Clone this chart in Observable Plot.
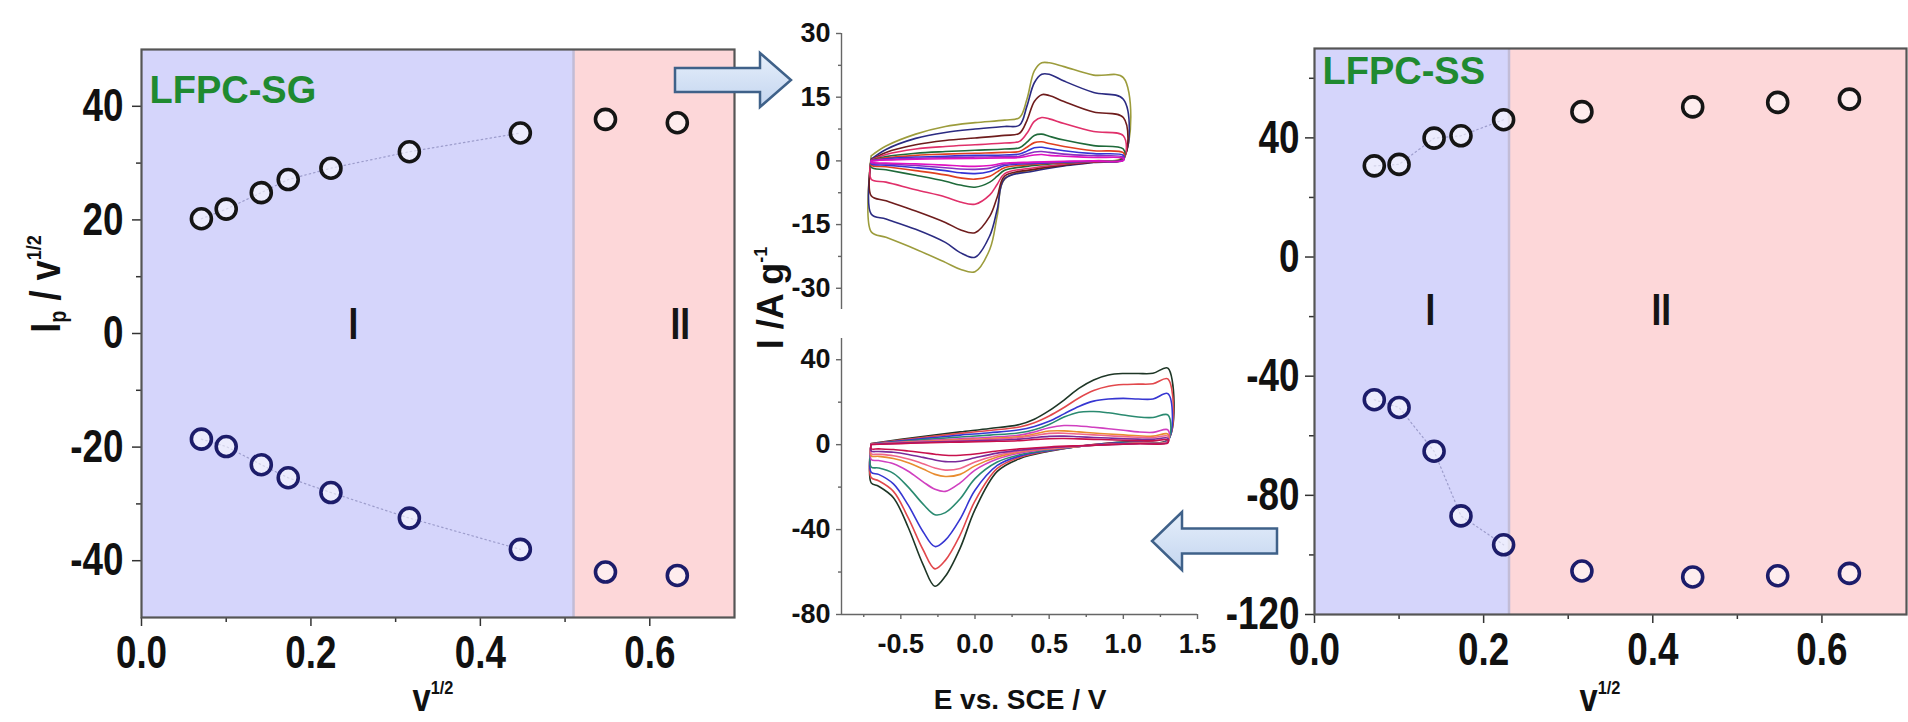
<!DOCTYPE html>
<html>
<head>
<meta charset="utf-8">
<script src="https://cdn.jsdelivr.net/npm/d3@7"></script>
<script src="https://cdn.jsdelivr.net/npm/@observablehq/plot@0.6"></script>
<style>
  html, body { margin: 0; padding: 0; background: #fff; }
  #wrap { position: relative; width: 1908px; height: 722px; overflow: hidden; background: #fff; }
  .panel { position: absolute; top: 0; }
  .lbl { position: absolute; white-space: nowrap; line-height: 0.85; color: #111; font-weight: bold; }
  .narrow { font-family: "Liberation Sans Narrow", "Arial Narrow", "Liberation Sans", Arial, sans-serif; }
  .reg { font-family: "Liberation Sans", Arial, sans-serif; }
  .rot { transform: translate(-50%, -50%) rotate(-90deg) scaleX(0.86); }
  .ctr { transform: translateX(-50%) scaleX(0.86); }
  .rotr { transform: translate(-50%, -50%) rotate(-90deg); }
  .ctrr { transform: translateX(-50%); }
  sup { font-size: 0.5em; vertical-align: 0.9em; line-height: 0; }
  sub { font-size: 0.55em; vertical-align: -0.25em; line-height: 0; }
  #arrows { position: absolute; left: 0; top: 0; pointer-events: none; }
</style>
</head>
<body>
<div id="wrap"></div>
<script>
// ---------------- DATA ----------------
// square root of scan rate (x of both outer panels)
const sqrtScanRate = [0.0707, 0.1, 0.1414, 0.1732, 0.2236, 0.3162, 0.4472, 0.5477, 0.6325];
// LFPC-SG : Ip / v^1/2
const sgAnodicPeak   = [20.2, 21.9, 24.8, 27.1, 29.1, 32.0, 35.3, 37.7, 37.1];
const sgCathodicPeak = [-18.6, -19.9, -23.1, -25.4, -28.0, -32.5, -38.0, -42.0, -42.6];
// LFPC-SS : Ip / v^1/2
const ssAnodicPeak   = [30.6, 31.1, 39.9, 40.7, 46.1, 48.8, 50.4, 51.9, 53.0];
const ssCathodicPeak = [-47.9, -50.5, -65.2, -86.9, -96.6, -105.4, -107.4, -107.0, -106.2];
// region boundaries (x) and names
const sgRegionBounds = [0, 0.51, 0.7];
const ssRegionBounds = [0, 0.23, 0.7];
const regionNames = ["I", "II"];
const sgFitCount = 7;   // points joined by the dotted guide in region I
const ssFitCount = 5;

// tick values
const outerXTicks = [0, 0.2, 0.4, 0.6];
const outerXMinor = [0.1, 0.3, 0.5];
const sgYTicks = [-40, -20, 0, 20, 40];
const sgYMinor = [-30, -10, 10, 30];
const ssYTicks = [-120, -80, -40, 0, 40];
const ssYMinor = [-100, -60, -20, 20, 60];
const cvXTicks = [-0.5, 0, 0.5, 1.0, 1.5];
const cvXMinor = [-0.75, -0.25, 0.25, 0.75, 1.25];
const sgCvYTicks = [-30, -15, 0, 15, 30];
const sgCvYMinor = [-22.5, -7.5, 7.5, 22.5];
const ssCvYTicks = [-80, -40, 0, 40];
const ssCvYMinor = [-60, -20, 20];

// domains
const outerXDomain = [0, 0.7];
const sgYDomain = [-50, 50];
const ssYDomain = [-120, 70];
const cvXDomain = [-0.9, 1.5];
const sgCvYDomain = [-35, 30];
const ssCvYDomain = [-80, 50];

// CV of LFPC-SG (top inset): potential grid of forward / reverse sweep
const sgCvPotUp   = [-0.7, -0.6, -0.4, -0.2, 0.0, 0.2, 0.3, 0.35, 0.4, 0.45, 0.5, 0.6, 0.8, 1.0];
const sgCvPotDown = [1.0, 0.8, 0.6, 0.4, 0.2, 0.15, 0.1, 0.0, -0.1, -0.2, -0.4, -0.6, -0.7];
const sgCvUp = [
  [1.2, 3.5, 6.3, 8.1, 9.0, 9.6, 10.2, 14.5, 21.2, 23.1, 23.1, 22.2, 20.2, 19.6],
  [0.4, 2.7, 5.3, 6.7, 7.5, 8.1, 8.4, 12.9, 18.4, 20.4, 20.4, 18.8, 16.1, 14.5],
  [0.2, 2.0, 3.8, 4.8, 5.4, 6.0, 6.5, 9.5, 14.0, 15.6, 15.4, 14.0, 11.5, 10.2],
  [0.2, 1.5, 2.8, 3.4, 3.8, 4.2, 4.6, 6.5, 9.3, 10.2, 9.9, 8.8, 6.9, 5.9],
  [0.1, 1.0, 1.8, 2.2, 2.5, 2.8, 3.1, 4.4, 6.0, 6.3, 5.8, 4.9, 3.6, 2.8],
  [0.1, 0.7, 1.3, 1.6, 1.8, 2.0, 2.2, 3.2, 4.3, 4.5, 4.1, 3.4, 2.4, 1.9],
  [0.1, 0.5, 0.9, 1.1, 1.3, 1.4, 1.6, 2.3, 3.1, 3.2, 2.9, 2.4, 1.7, 1.3],
  [0.0, 0.3, 0.6, 0.8, 0.9, 1.0, 1.1, 1.6, 2.1, 2.2, 2.0, 1.6, 1.2, 0.9],
  [0.0, 0.2, 0.4, 0.5, 0.6, 0.7, 0.8, 1.1, 1.4, 1.5, 1.3, 1.1, 0.8, 0.6]
];
const sgCvDown = [
  [1.0, 0.0, -0.8, -2.0, -4.3, -12.9, -20.8, -26.1, -25.5, -23.9, -20.8, -18.0, -16.7],
  [0.8, -0.4, -1.2, -2.4, -4.2, -11.4, -17.6, -22.7, -21.6, -19.2, -16.1, -13.7, -12.5],
  [0.6, -0.3, -1.0, -2.0, -3.6, -8.5, -13.0, -16.9, -16.2, -14.5, -11.8, -9.4, -8.2],
  [0.4, -0.2, -0.8, -1.6, -3.0, -5.5, -8.0, -10.2, -9.7, -8.5, -6.8, -5.0, -4.3],
  [0.3, -0.1, -0.5, -1.1, -2.2, -3.6, -5.0, -6.2, -5.7, -4.8, -3.4, -2.1, -1.5],
  [0.2, -0.1, -0.4, -0.8, -1.6, -2.6, -3.6, -4.3, -4.0, -3.3, -2.3, -1.4, -1.0],
  [0.2, -0.1, -0.3, -0.6, -1.1, -1.8, -2.5, -3.0, -2.8, -2.3, -1.6, -1.0, -0.7],
  [0.1, -0.1, -0.2, -0.4, -0.8, -1.2, -1.7, -2.0, -1.9, -1.6, -1.1, -0.7, -0.5],
  [0.1, 0.0, -0.1, -0.3, -0.5, -0.8, -1.1, -1.3, -1.2, -1.0, -0.7, -0.5, -0.3]
];
const sgCvColors = ["#9c9c3c", "#2b2b82", "#6e1c1c", "#e0306a", "#1f6a3a", "#e04020", "#3434d4", "#8a30c0", "#e010c0"];

// CV of LFPC-SS (bottom inset)
const ssCvPotUp   = [-0.7, -0.5, -0.3, -0.1, 0.1, 0.3, 0.4, 0.5, 0.6, 0.7, 0.8, 0.9, 1.0, 1.1, 1.2, 1.3];
const ssCvPotDown = [1.3, 1.1, 0.9, 0.7, 0.5, 0.3, 0.15, 0.0, -0.1, -0.2, -0.27, -0.35, -0.45, -0.55, -0.65, -0.7];
const ssCvUp = [
  [0.5, 2.5, 4.3, 6.0, 7.6, 9.5, 12.0, 16.0, 21.0, 26.5, 30.5, 32.8, 33.5, 33.5, 33.6, 36.0],
  [0.4, 2.2, 3.8, 5.3, 6.7, 8.3, 10.3, 13.5, 17.5, 22.0, 25.5, 27.5, 28.3, 28.5, 28.7, 31.0],
  [0.3, 1.8, 3.2, 4.5, 5.6, 7.0, 8.6, 11.0, 14.5, 18.0, 20.5, 21.5, 21.8, 21.5, 21.5, 24.0],
  [0.3, 1.5, 2.6, 3.6, 4.5, 5.6, 7.0, 9.5, 13.0, 15.3, 15.6, 15.0, 14.0, 13.0, 12.8, 14.0],
  [0.2, 1.2, 2.0, 2.8, 3.5, 4.5, 6.0, 8.0, 9.0, 8.8, 8.2, 7.5, 6.8, 6.0, 5.8, 7.0],
  [0.2, 1.0, 1.7, 2.3, 2.9, 3.8, 5.0, 6.4, 6.5, 6.0, 5.5, 5.0, 4.6, 4.2, 4.0, 5.0],
  [0.2, 0.9, 1.5, 2.0, 2.5, 3.3, 4.3, 5.3, 5.4, 5.0, 4.6, 4.2, 3.8, 3.5, 3.3, 4.0],
  [0.1, 0.7, 1.2, 1.6, 2.0, 2.6, 3.3, 3.9, 4.0, 3.7, 3.4, 3.1, 2.8, 2.6, 2.5, 3.0],
  [0.1, 0.5, 0.9, 1.2, 1.5, 1.9, 2.4, 2.8, 2.9, 2.7, 2.5, 2.3, 2.1, 1.9, 1.8, 2.2]
];
const ssCvDown = [
  [2.4, 1.6, 0.8, -0.8, -3.1, -6.6, -12.6, -30.6, -48.7, -62.0, -66.7, -56.5, -39.0, -25.0, -19.6, -18.0],
  [2.2, 1.4, 0.6, -0.8, -2.9, -6.0, -11.2, -26.5, -42.5, -54.5, -58.5, -49.5, -34.5, -22.0, -17.0, -15.5],
  [2.0, 1.2, 0.5, -0.8, -2.7, -5.4, -9.8, -21.5, -35.0, -45.0, -48.0, -41.0, -28.5, -18.5, -14.0, -13.0],
  [1.8, 1.0, 0.3, -0.9, -2.5, -4.8, -8.2, -16.0, -25.5, -32.0, -33.0, -28.0, -20.0, -13.5, -11.0, -10.5],
  [1.5, 0.8, 0.2, -0.8, -2.1, -4.0, -6.8, -12.0, -18.0, -22.0, -21.0, -17.5, -12.5, -9.0, -7.5, -7.0],
  [1.3, 0.7, 0.1, -0.8, -1.9, -3.5, -5.8, -10.0, -14.0, -15.0, -14.0, -11.5, -8.5, -6.5, -5.5, -5.3],
  [1.2, 0.6, 0.1, -0.7, -1.7, -3.1, -5.0, -8.2, -11.2, -12.0, -11.0, -9.0, -6.8, -5.2, -4.5, -4.3],
  [1.0, 0.5, 0.0, -0.6, -1.4, -2.6, -4.0, -6.2, -7.8, -8.0, -7.2, -6.0, -4.6, -3.6, -3.2, -3.0],
  [0.8, 0.4, 0.0, -0.5, -1.1, -2.0, -3.0, -4.4, -5.0, -5.0, -4.5, -3.8, -3.0, -2.3, -2.0, -1.9]
];
const ssCvColors = ["#1e3626", "#e2484c", "#3636d2", "#2a8a70", "#d040c0", "#e88c30", "#f0668a", "#7a2a9a", "#c8104c"];

// ---------------- HELPERS ----------------
const NARROW = '"Liberation Sans Narrow", "Arial Narrow", "Liberation Sans", Arial, sans-serif';
const REG = '"Liberation Sans", Arial, sans-serif';
const fmt1 = d => d.toFixed(1);
const fmt0 = d => String(d);
const blank = () => "";
const wrap = document.getElementById("wrap");

function place(node, left, top, w) {
  const div = document.createElement("div");
  div.className = "panel";
  div.style.left = left + "px";
  div.style.top = top + "px";
  div.style.width = w + "px";
  div.appendChild(node);
  wrap.appendChild(div);
}

// give the outer panels' tick labels the narrow (condensed) look of the original:
// append a horizontal scale to each text's own translate(), so the anchor stays put
function condense(svgNode, k) {
  svgNode.querySelectorAll('g[aria-label="y-axis tick label"] text, g[aria-label="x-axis tick label"] text, g.condense text')
    .forEach(t => {
      const tr = t.getAttribute("transform");
      if (tr) t.setAttribute("transform", `${tr} scale(${k},1)`);
    });
  return svgNode;
}

function pts(xs, ys) { return xs.map((x, i) => ({x, y: ys[i]})); }

function loops(potUp, potDown, up, down, colors) {
  return up.map((row, k) => {
    const data = potUp.map((e, j) => ({E: e, I: row[j]}))
      .concat(potDown.map((e, j) => ({E: e, I: down[k][j]})));
    data.push(data[0]);
    return Plot.line(data, {x: "E", y: "I", stroke: colors[k], strokeWidth: 1.6, curve: "catmull-rom"});
  });
}

function outerPanel(o) {
  const top = pts(sqrtScanRate, o.anodic), bot = pts(sqrtScanRate, o.cathodic);
  const p = Plot.plot({
    width: o.width, height: 722,
    marginLeft: o.ml, marginRight: o.mr, marginTop: o.mt, marginBottom: o.mb,
    x: {domain: outerXDomain, label: null},
    y: {domain: o.yDomain, label: null},
    style: {background: "transparent", overflow: "visible"},
    marks: [
      Plot.rect([{a: o.bounds[0], b: o.bounds[1]}], {x1: "a", x2: "b", y1: o.yDomain[0], y2: o.yDomain[1], fill: "#d5d5fb"}),
      Plot.rect([{a: o.bounds[1], b: o.bounds[2]}], {x1: "a", x2: "b", y1: o.yDomain[0], y2: o.yDomain[1], fill: "#fdd7d9"}),
      Plot.ruleX([o.bounds[1]], {stroke: "#c2bcd6", strokeWidth: 2.5}),
      Plot.line(top.slice(0, o.fit), {x: "x", y: "y", stroke: "#9d9dcc", strokeWidth: 1.2, strokeDasharray: "1.5,3"}),
      Plot.line(bot.slice(0, o.fit), {x: "x", y: "y", stroke: "#9d9dcc", strokeWidth: 1.2, strokeDasharray: "1.5,3"}),
      Plot.dot(top, {x: "x", y: "y", r: 10, stroke: "#151515", strokeWidth: 3.6, fill: "#ffffff", fillOpacity: 0.55}),
      Plot.dot(bot, {x: "x", y: "y", r: 10, stroke: "#1c1c6a", strokeWidth: 3.6, fill: "#ffffff", fillOpacity: 0.55}),
      Plot.text([o.name], {text: d => d, frameAnchor: "top-left", textAnchor: "start", lineAnchor: "top",
        dx: 8, dy: o.nameDy, fill: "#1f8a30", fontSize: 38, fontWeight: "bold", fontFamily: REG}),
      Plot.text([regionNames[0]], {text: d => d, x: o.regX[0], y: o.regY, lineAnchor: "middle", className: "condense",
        fill: "#151515", fontSize: 44, fontWeight: "bold", fontFamily: NARROW}),
      Plot.text([regionNames[1]], {text: d => d, x: o.regX[1], y: o.regY, lineAnchor: "middle", className: "condense",
        fill: "#151515", fontSize: 44, fontWeight: "bold", fontFamily: NARROW}),
      Plot.axisY({ticks: o.yTicks, tickSize: 9, tickPadding: o.yPad, tickFormat: fmt0, stroke: "#333", strokeWidth: 1.5,
        fontSize: 46, fontWeight: "bold", fontFamily: NARROW, fill: "#111", label: null}),
      Plot.axisY({ticks: o.yMinor, tickSize: 5, tickFormat: blank, stroke: "#333", strokeWidth: 1.5, label: null}),
      Plot.axisX({ticks: outerXTicks, tickSize: 9, tickPadding: 9, tickFormat: fmt1, stroke: "#333", strokeWidth: 1.5,
        fontSize: 46, fontWeight: "bold", fontFamily: NARROW, fill: "#111", label: null}),
      Plot.axisX({ticks: outerXMinor, tickSize: 5, tickFormat: blank, stroke: "#333", strokeWidth: 1.5, label: null}),
      Plot.frame({stroke: "#555", strokeWidth: 2.2})
    ]
  });
  return condense(p, 0.8);
}

// ---------------- OUTER PANELS ----------------
place(outerPanel({
  width: 760, ml: 141, mr: 26, mt: 49, mb: 105,
  yDomain: sgYDomain, anodic: sgAnodicPeak, cathodic: sgCathodicPeak,
  bounds: sgRegionBounds, fit: sgFitCount, name: "LFPC-SG", nameDy: 27,
  regX: [0.25, 0.636], regY: 1.5, yTicks: sgYTicks, yMinor: sgYMinor, yPad: 9
}), 0, 0, 760);

place(outerPanel({
  width: 708, ml: 114, mr: 2, mt: 48, mb: 108,
  yDomain: ssYDomain, anodic: ssAnodicPeak, cathodic: ssCathodicPeak,
  bounds: ssRegionBounds, fit: ssFitCount, name: "LFPC-SS", nameDy: 9,
  regX: [0.137, 0.41], regY: -18, yTicks: ssYTicks, yMinor: ssYMinor, yPad: 6
}), 1200, 0, 708);

// ---------------- CV INSETS ----------------
const axisStyle = {stroke: "#666", strokeWidth: 1.4};
const cvTop = Plot.plot({
  width: 460, height: 330, marginLeft: 81, marginRight: 23, marginTop: 33, marginBottom: 21,
  x: {domain: cvXDomain, axis: null, label: null},
  y: {domain: sgCvYDomain, label: null},
  style: {background: "transparent", overflow: "visible"},
  marks: [
    ...loops(sgCvPotUp, sgCvPotDown, sgCvUp, sgCvDown, sgCvColors),
    Plot.ruleX([cvXDomain[0]], axisStyle),
    Plot.axisY({ticks: sgCvYTicks, tickSize: 5, tickPadding: 6, tickFormat: fmt0, ...axisStyle,
      fontSize: 27, fontWeight: "bold", fontFamily: REG, fill: "#111", label: null}),
    Plot.axisY({ticks: sgCvYMinor, tickSize: 3, tickFormat: blank, ...axisStyle, label: null})
  ]
});
place(cvTop, 760, 0, 460);

const cvBot = Plot.plot({
  width: 460, height: 392, marginLeft: 81, marginRight: 23, marginTop: 8, marginBottom: 108,
  x: {domain: cvXDomain, label: null},
  y: {domain: ssCvYDomain, label: null},
  style: {background: "transparent", overflow: "visible"},
  marks: [
    ...loops(ssCvPotUp, ssCvPotDown, ssCvUp, ssCvDown, ssCvColors),
    Plot.ruleX([cvXDomain[0]], axisStyle),
    Plot.ruleY([ssCvYDomain[0]], axisStyle),
    Plot.axisY({ticks: ssCvYTicks, tickSize: 5, tickPadding: 6, tickFormat: fmt0, ...axisStyle,
      fontSize: 27, fontWeight: "bold", fontFamily: REG, fill: "#111", label: null}),
    Plot.axisY({ticks: ssCvYMinor, tickSize: 3, tickFormat: blank, ...axisStyle, label: null}),
    Plot.axisX({ticks: cvXTicks, tickSize: 5, tickPadding: 14, tickFormat: fmt1, ...axisStyle,
      fontSize: 27, fontWeight: "bold", fontFamily: REG, fill: "#111", label: null}),
    Plot.axisX({ticks: cvXMinor, tickSize: 3, tickFormat: blank, ...axisStyle, label: null})
  ]
});
place(cvBot, 760, 330, 460);

// ---------------- AXIS TITLES (HTML text) ----------------
function label(html, cls, css) {
  const d = document.createElement("div");
  d.className = "lbl " + cls;
  d.innerHTML = html;
  Object.assign(d.style, css);
  wrap.appendChild(d);
}
label("I<sub>p</sub> / v<sup>1/2</sup>", "narrow rot", {left: "46px", top: "284px", fontSize: "42px"});
label("v<sup>1/2</sup>", "narrow ctr", {left: "433px", top: "682px", fontSize: "38px"});
label("v<sup>1/2</sup>", "narrow ctr", {left: "1600px", top: "682px", fontSize: "38px"});
label("I /A g<sup>-1</sup>", "reg rotr", {left: "771px", top: "298px", fontSize: "36px"});
label("E vs. SCE / V", "reg ctrr", {left: "1020px", top: "688px", fontSize: "28px"});

// ---------------- BLOCK ARROWS (decoration) ----------------
const svg = d3.select(wrap).append("svg").attr("id", "arrows").attr("width", 1908).attr("height", 722);
const grad = svg.append("defs").append("linearGradient").attr("id", "ag").attr("x1", 0).attr("y1", 0).attr("x2", 0).attr("y2", 1);
grad.append("stop").attr("offset", "0%").attr("stop-color", "#e6effb");
grad.append("stop").attr("offset", "100%").attr("stop-color", "#c3d5ef");
function blockArrow(tail, base, tip, cy, bodyHalf, headHalf) {
  return `M${tail},${cy - bodyHalf} H${base} V${cy - headHalf} L${tip},${cy} L${base},${cy + headHalf} V${cy + bodyHalf} H${tail} Z`;
}
svg.append("path").attr("d", blockArrow(675, 760, 791, 80, 12, 27))
  .attr("fill", "url(#ag)").attr("stroke", "#3f6189").attr("stroke-width", 2.5).attr("stroke-linejoin", "miter");
svg.append("path").attr("d", blockArrow(1277, 1182, 1152, 541, 12.5, 29))
  .attr("fill", "url(#ag)").attr("stroke", "#3f6189").attr("stroke-width", 2.5).attr("stroke-linejoin", "miter");
</script>
</body>
</html>
